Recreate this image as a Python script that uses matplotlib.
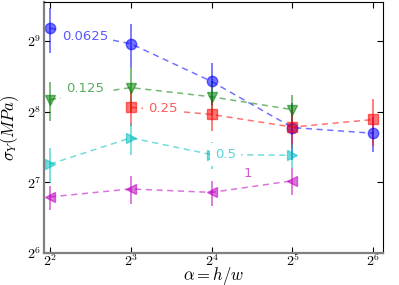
import math
import matplotlib
matplotlib.use('Agg')
import matplotlib.pyplot as plt
from matplotlib.ticker import FixedLocator, FuncFormatter, NullLocator

plt.rcParams['mathtext.fontset'] = 'cm'

# aspect ratio alpha = h/w
alpha = [4, 8, 16, 32, 64]

# yield stress (MPa) per width
s_0625 = [580, 498, 344, 219, 207]
e_0625 = [125, 105, 70, 60, 35]
s_125 = [288, 324, 296, 261]
e_125 = [55, 68, 50, 41]
s_25 = [267, 249, 220, 237]
e_25 = [45, 38, 40, 54]
s_5 = [153, 198, 168, 167]
e_5 = [26, 30, 22, 20]
s_1 = [111, 120, 116, 130]
e_1 = [13, 16, 14, 17]

series = [
    ('0.0625', alpha, s_0625, e_0625, 'b', 'o', (5.4, 537)),
    ('0.125', alpha[:4], s_125, e_125, 'g', 'v', (5.4, 320)),
    ('0.25', alpha[1:], s_25, e_25, 'r', 's', (10.5, 264)),
    ('0.5', alpha[:4], s_5, e_5, 'c', '>', (18.0, 168)),
    ('1', alpha[:4], s_1, e_1, 'm', '<', (21.9, 140)),
]

fig = plt.figure(figsize=(3.99, 2.85), dpi=100)
ax = fig.add_axes([0.110, 0.112, 0.850, 0.881])

for lab, x, y, e, c, m, pos in series:
    ax.errorbar(x, y, yerr=e, color=c, marker=m, ms=7.5, ls='--', lw=1.1,
                dashes=(4, 3), alpha=0.55, elinewidth=1.3, capsize=0,
                mec=c, zorder=2)
    ax.text(pos[0], pos[1], lab, color=c, alpha=0.65, fontsize=9.5,
            ha='center', va='center', zorder=5,
            bbox=dict(facecolor='white', edgecolor='none', pad=3.5))

ax.set_xscale('log', base=2)
ax.set_yscale('log', base=2)
ax.set_xlim(2 ** 1.925, 2 ** 6.12)
ax.set_ylim(2 ** 6, 2 ** 9.55)

fmt = FuncFormatter(lambda v, p: r'$2^{%d}$' % round(math.log2(v)))
ax.xaxis.set_major_locator(FixedLocator([4, 8, 16, 32, 64]))
ax.yaxis.set_major_locator(FixedLocator([64, 128, 256, 512]))
ax.xaxis.set_minor_locator(NullLocator())
ax.yaxis.set_minor_locator(NullLocator())
ax.xaxis.set_major_formatter(fmt)
ax.yaxis.set_major_formatter(fmt)
ax.tick_params(direction='in', top=True, right=True, length=4, labelsize=10)
ax.tick_params(axis='x', pad=0)
ax.tick_params(axis='y', pad=2)

for side in ['left', 'bottom']:
    ax.spines[side].set_color('0.5')
    ax.spines[side].set_linewidth(1.6)

ax.set_xlabel(r'$\alpha = h/w$', fontsize=12, labelpad=-3.5)
ax.set_ylabel(r'$\sigma_Y(MPa)$', fontsize=12, labelpad=4)

fig.savefig('out.png', dpi=100)
